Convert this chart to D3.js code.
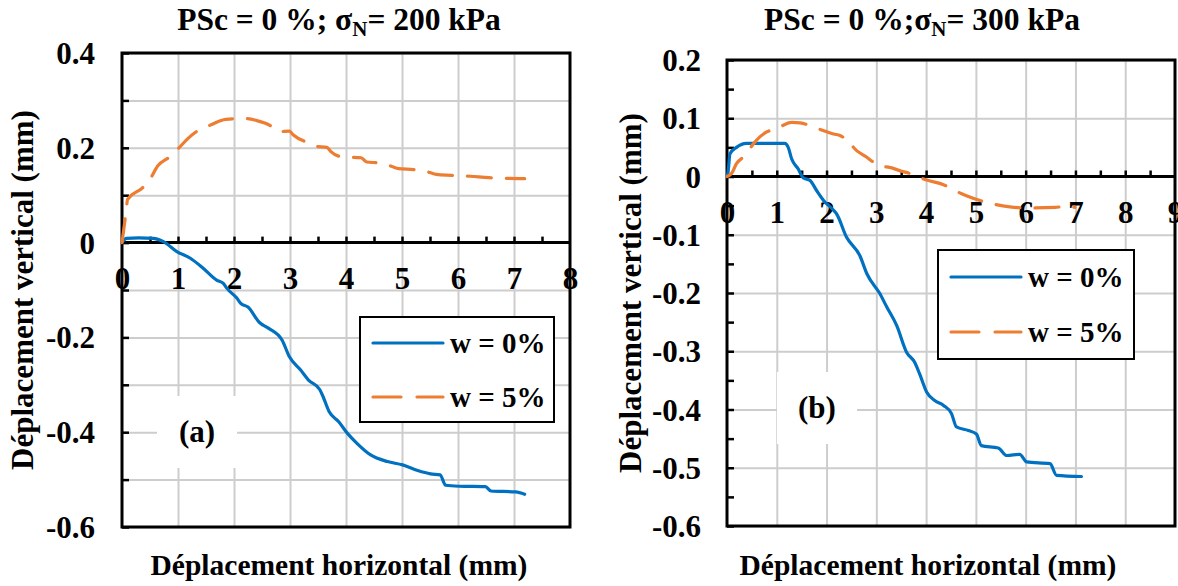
<!DOCTYPE html>
<html>
<head>
<meta charset="utf-8">
<script src="https://cdn.jsdelivr.net/npm/d3@7"></script>
<style>
  html, body { margin: 0; padding: 0; background: #fff; }
  svg { display: block; }
  text { font-family: "Liberation Serif", "Times New Roman", serif; font-weight: bold; fill: #000; }
</style>
</head>
<body>
<svg id="chart" width="1178" height="586"></svg>
<script>
// Panel (a): sigma_N = 200 kPa — horizontal vs vertical displacement (mm)
const aDryX = [0, 0.08, 0.3, 0.56, 0.74, 0.98, 1.22, 1.45, 1.69, 1.81, 1.87, 2.05, 2.12, 2.25, 2.45, 2.62, 2.86, 2.99, 3.19, 3.33, 3.53, 3.58, 3.70, 3.87, 4.03, 4.2, 4.44, 4.74, 5.01, 5.28, 5.51, 5.68, 5.78, 6.02, 6.49, 6.59, 7.03, 7.19];
const aDryY = [0, 0.009, 0.010, 0.009, 0.002, -0.019, -0.033, -0.054, -0.079, -0.086, -0.096, -0.117, -0.128, -0.136, -0.168, -0.181, -0.206, -0.241, -0.269, -0.29, -0.31, -0.322, -0.357, -0.378, -0.403, -0.424, -0.448, -0.462, -0.469, -0.481, -0.488, -0.49, -0.512, -0.514, -0.515, -0.524, -0.526, -0.531];
const aWetX = [0, 0.07, 0.1, 0.37, 0.5, 0.64, 0.84, 1.01, 1.18, 1.38, 1.58, 1.85, 2.18, 2.39, 2.66, 2.79, 2.99, 3.06, 3.33, 3.46, 3.66, 3.73, 3.93, 4.27, 4.37, 4.6, 4.81, 4.94, 5.21, 5.41, 5.61, 5.88, 6.22, 6.55, 7.19];
const aWetY = [0, 0.063, 0.091, 0.116, 0.134, 0.162, 0.18, 0.199, 0.22, 0.238, 0.248, 0.26, 0.262, 0.258, 0.246, 0.234, 0.235, 0.227, 0.21, 0.203, 0.201, 0.192, 0.181, 0.179, 0.17, 0.168, 0.161, 0.156, 0.154, 0.151, 0.144, 0.142, 0.14, 0.137, 0.135];

// Panel (b): sigma_N = 300 kPa
const bDryX = [0, 0.02, 0.06, 0.19, 0.39, 1.16, 1.23, 1.3, 1.43, 1.53, 1.67, 1.8, 1.94, 2.14, 2.2, 2.4, 2.67, 2.81, 3.07, 3.21, 3.41, 3.61, 3.77, 3.87, 4.01, 4.18, 4.35, 4.51, 4.61, 4.85, 5.01, 5.11, 5.45, 5.62, 5.88, 6.02, 6.49, 6.62, 7.12];
const bDryY = [0, 0.007, 0.039, 0.05, 0.057, 0.057, 0.05, 0.03, 0.013, -0.002, -0.007, -0.024, -0.041, -0.058, -0.064, -0.104, -0.136, -0.167, -0.201, -0.224, -0.256, -0.302, -0.319, -0.339, -0.37, -0.385, -0.393, -0.407, -0.43, -0.436, -0.442, -0.462, -0.466, -0.479, -0.477, -0.49, -0.493, -0.513, -0.515];
const bWetX = [0, 0.09, 0.19, 0.36, 0.53, 0.66, 0.79, 0.99, 1.3, 1.47, 1.83, 2.14, 2.28, 2.38, 2.44, 2.54, 2.81, 2.94, 3.04, 3.14, 3.24, 3.51, 3.68, 3.88, 4.05, 4.35, 4.55, 4.81, 5.15, 5.68, 6.02, 6.59, 6.82, 6.99];
const bWetY = [0, 0.005, 0.022, 0.036, 0.056, 0.068, 0.076, 0.082, 0.093, 0.092, 0.082, 0.073, 0.07, 0.065, 0.063, 0.05, 0.033, 0.025, 0.023, 0.017, 0.016, 0.009, 0.005, -0.002, -0.007, -0.014, -0.023, -0.033, -0.043, -0.052, -0.054, -0.053, -0.051, -0.053];

// Axis ticks
const aXTicks = [0, 1, 2, 3, 4, 5, 6, 7, 8];
const aYTicks = [0.4, 0.2, 0, -0.2, -0.4, -0.6];
const aYGrid = [0.4, 0.3, 0.2, 0.1, 0, -0.1, -0.2, -0.3, -0.4, -0.5, -0.6];
const bXTicks = [0, 1, 2, 3, 4, 5, 6, 7, 8, 9];
const bYTicks = [0.2, 0.1, 0, -0.1, -0.2, -0.3, -0.4, -0.5, -0.6];
const bYMinor = [0.15, 0.05, -0.05, -0.15, -0.25, -0.35, -0.45, -0.55];

const seriesNames = ["w = 0%", "w = 5%"];
const seriesColors = ["#0070C0", "#ED7D31"];

const svg = d3.select("#chart");
const fmt = v => (v < 0 ? "-" : "") + String(+Math.abs(v).toFixed(2));
const zip = (xs, ys) => xs.map((x, i) => [x, ys[i]]);
const TICK_FONT = 31;

function drawPanel(p) {
  const x = d3.scaleLinear().domain(p.xDomain).range([p.left, p.right]);
  const y = d3.scaleLinear().domain(p.yDomain).range([p.bottom, p.top]);
  const g = svg.append("g");
  const w = p.right - p.left, h = p.bottom - p.top;

  // vertical grid
  g.append("g")
    .attr("transform", `translate(0,${p.bottom})`)
    .call(d3.axisBottom(x).tickValues(p.xTicks.slice(1, -1)).tickSize(-h).tickFormat(""))
    .call(s => s.select(".domain").remove())
    .selectAll("line").attr("stroke", "#cdcdcd").attr("stroke-width", 2);

  // horizontal grid
  g.append("g")
    .attr("transform", `translate(${p.left},0)`)
    .call(d3.axisLeft(y).tickValues(p.yGrid).tickSize(-w).tickFormat(""))
    .call(s => s.select(".domain").remove())
    .selectAll("line").attr("stroke", "#cdcdcd").attr("stroke-width", 2);

  // panel tag with white backing
  g.append("rect")
    .attr("x", p.tag.x - 40).attr("y", p.tag.y - 36)
    .attr("width", 80).attr("height", 72).attr("fill", "#fff");
  g.append("text")
    .attr("x", p.tag.x).attr("y", p.tag.y).attr("dy", "0.33em")
    .attr("text-anchor", "middle").attr("font-size", 31)
    .text(p.tag.text);

  // horizontal axis through zero with upward ticks every 0.5
  const zeroY = y(0);
  g.append("line")
    .attr("x1", p.left).attr("x2", p.right).attr("y1", zeroY).attr("y2", zeroY)
    .attr("stroke", "#000").attr("stroke-width", 3);
  g.append("g")
    .attr("transform", `translate(0,${zeroY})`)
    .call(d3.axisTop(x).tickValues(d3.range(p.xDomain[0] + 0.5, p.xDomain[1], 0.5)).tickSize(6).tickFormat(""))
    .call(s => s.select(".domain").remove())
    .selectAll("line").attr("stroke", "#000").attr("stroke-width", 2.5);

  // inward ticks on the left border
  g.append("g")
    .attr("transform", `translate(${p.left},0)`)
    .call(d3.axisRight(y).tickValues(p.yTickMarks).tickSize(7).tickFormat(""))
    .call(s => s.select(".domain").remove())
    .selectAll("line").attr("stroke", "#000").attr("stroke-width", 2.5);

  // frame
  g.append("rect")
    .attr("x", p.left).attr("y", p.top).attr("width", w).attr("height", h)
    .attr("fill", "none").attr("stroke", "#000").attr("stroke-width", 3);

  // x tick labels under the zero line
  g.append("g")
    .attr("transform", `translate(0,${zeroY})`)
    .call(d3.axisBottom(x).tickValues(p.xTicks).tickSize(0).tickPadding(24).tickFormat(fmt))
    .call(s => s.select(".domain").remove())
    .selectAll("text").attr("font-size", TICK_FONT).attr("fill", "#000")
    .style("font-family", "'Liberation Serif', serif").style("font-weight", "bold");

  // y tick labels
  g.append("g")
    .attr("transform", `translate(${p.left},0)`)
    .call(d3.axisLeft(y).tickValues(p.yTicks).tickSize(0).tickPadding(p.yPad).tickFormat(fmt))
    .call(s => s.select(".domain").remove())
    .selectAll("text").attr("font-size", TICK_FONT).attr("fill", "#000").attr("dy", "0.34em")
    .style("font-family", "'Liberation Serif', serif").style("font-weight", "bold");

  // data lines
  const line = d3.line().x(d => x(d[0])).y(d => y(d[1])).curve(d3.curveMonotoneX);
  g.append("path").datum(zip(p.dryX, p.dryY))
    .attr("d", line).attr("fill", "none")
    .attr("stroke", seriesColors[0]).attr("stroke-width", 3.2)
    .attr("stroke-linejoin", "round").attr("stroke-linecap", "round");
  g.append("path").datum(zip(p.wetX, p.wetY))
    .attr("d", line).attr("fill", "none")
    .attr("stroke", seriesColors[1]).attr("stroke-width", 3.2)
    .attr("stroke-dasharray", "24 15")
    .attr("stroke-linejoin", "round").attr("stroke-linecap", "round");

  // legend
  const L = p.legend;
  g.append("rect")
    .attr("x", L.x).attr("y", L.y).attr("width", L.w).attr("height", L.h)
    .attr("fill", "#fff").attr("stroke", "#000").attr("stroke-width", 2);
  seriesNames.forEach((name, i) => {
    const ly = L.y + L.rows[i];
    g.append("line")
      .attr("x1", L.x + 13).attr("x2", L.x + 83).attr("y1", ly).attr("y2", ly)
      .attr("stroke", seriesColors[i]).attr("stroke-width", 3.2)
      .attr("stroke-linecap", "round")
      .attr("stroke-dasharray", i === 1 ? "28 16" : null);
    g.append("text")
      .attr("x", L.x + 90).attr("y", ly).attr("dy", "0.34em")
      .attr("font-size", 29).text(name);
  });

  // title with subscript
  const t = g.append("text")
    .attr("x", p.titleX).attr("y", 30).attr("text-anchor", "middle").attr("font-size", 31.5);
  t.append("tspan").text(p.titlePre);
  t.append("tspan").attr("font-size", 21).attr("dy", 6).text("N");
  t.append("tspan").attr("dy", -6).text(p.titlePost);

  // axis titles
  svg.append("text")
    .attr("x", p.xTitleX).attr("y", 575).attr("text-anchor", "middle").attr("font-size", 29.5)
    .text("Déplacement horizontal (mm)");
  svg.append("text")
    .attr("transform", `translate(${p.yTitleX},${(p.top + p.bottom) / 2}) rotate(-90)`)
    .attr("text-anchor", "middle").attr("font-size", 31)
    .text("Déplacement vertical (mm)");
}

drawPanel({
  left: 122, right: 570, top: 53, bottom: 527,
  xDomain: [0, 8], yDomain: [-0.6, 0.4],
  xTicks: aXTicks, yTicks: aYTicks, yGrid: aYGrid, yTickMarks: aYGrid, yPad: 27,
  dryX: aDryX, dryY: aDryY, wetX: aWetX, wetY: aWetY,
  tag: { text: "(a)", x: 197, y: 432 },
  legend: { x: 360, y: 317, w: 194, h: 105, rows: [26, 80] },
  titleX: 339, titlePre: "PSc = 0 %; σ", titlePost: "= 200 kPa",
  xTitleX: 339, yTitleX: 33
});

drawPanel({
  left: 727, right: 1175, top: 60, bottom: 526,
  xDomain: [0, 9], yDomain: [-0.6, 0.2],
  xTicks: bXTicks, yTicks: bYTicks, yGrid: bYTicks, yTickMarks: bYTicks.concat(bYMinor), yPad: 26,
  dryX: bDryX, dryY: bDryY, wetX: bWetX, wetY: bWetY,
  tag: { text: "(b)", x: 817, y: 408 },
  legend: { x: 938, y: 250, w: 196, h: 109, rows: [27, 82] },
  titleX: 922, titlePre: "PSc = 0 %;σ", titlePost: "= 300 kPa",
  xTitleX: 928, yTitleX: 641
});
</script>
</body>
</html>
